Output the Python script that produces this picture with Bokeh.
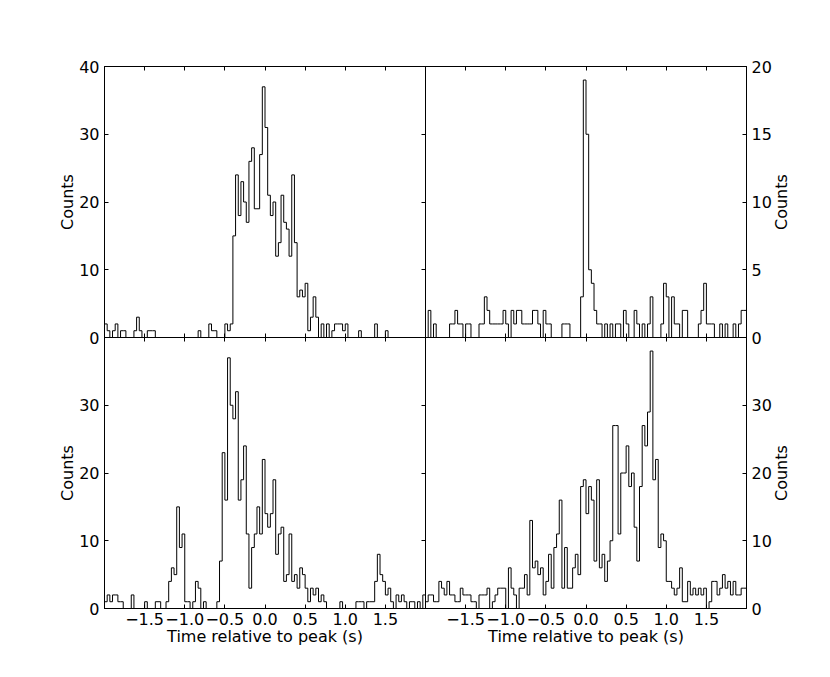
import math
import numpy as np
from bokeh.plotting import figure
from bokeh.models import Range1d, LinearAxis, FixedTicker, Span
from bokeh.embed import file_html
from bokeh.resources import INLINE

# ---------------- data ----------------
T_START, T_END = -2.0, 2.0          # time span of every light curve (s)
x_tick_values = [-1.5, -1.0, -0.5, 0.0, 0.5, 1.0, 1.5]
x_tick_labels = ["\u22121.5", "\u22121.0", "\u22120.5", "0.0", "0.5", "1.0", "1.5"]
yticks_top_left = [0, 10, 20, 30, 40]
yticks_top_right = [0, 5, 10, 15, 20]
yticks_bottom_left = [0, 10, 20, 30]
yticks_bottom_right = [0, 10, 20, 30]
inner_yticks_top_left = [10, 20, 30]
inner_yticks_bottom_left = [10, 20, 30]
x_label = "Time relative to peak (s)"
y_label = "Counts"

counts_top_left = [
    2, 1, 0, 1, 2, 0, 1, 1, 0, 0,
    0, 1, 3, 1, 0, 0, 1, 1, 1, 0,
    0, 0, 0, 0, 0, 0, 0, 0, 0, 0,
    0, 0, 0, 0, 0, 1, 0, 0, 0, 2,
    1, 1, 0, 0, 0, 2, 1, 2, 15, 24,
    18, 23, 20, 17, 26, 28, 19, 19, 27, 37,
    31, 21, 18, 20, 12, 14, 21, 17, 16, 12,
    24, 14, 6, 7, 6, 8, 1, 3, 6, 3,
    0, 2, 0, 2, 0, 1, 2, 2, 2, 1,
    2, 0, 0, 0, 0, 1, 0, 0, 0, 0,
    0, 2, 0, 0, 0, 1, 0, 0, 0, 0,
    0, 0, 0, 0, 0, 0, 0, 0, 0, 0,
]
counts_top_right = [
    0, 2, 0, 1, 0, 0, 0, 0, 0, 1,
    1, 2, 1, 1, 0, 1, 1, 0, 0, 0,
    1, 1, 3, 2, 1, 1, 1, 1, 1, 2,
    1, 0, 2, 1, 2, 2, 1, 1, 1, 1,
    2, 2, 1, 0, 2, 1, 1, 0, 0, 0,
    0, 1, 1, 1, 0, 0, 0, 0, 3, 19,
    15, 5, 4, 2, 1, 1, 0, 1, 0, 1,
    0, 1, 1, 0, 2, 1, 0, 0, 2, 1,
    0, 1, 0, 1, 3, 0, 0, 0, 1, 4,
    3, 0, 3, 1, 1, 0, 2, 2, 0, 0,
    0, 0, 1, 2, 4, 1, 1, 1, 0, 0,
    1, 0, 1, 0, 0, 1, 0, 1, 2, 2,
]
counts_bottom_left = [
    1, 2, 1, 2, 2, 1, 1, 0, 0, 0,
    2, 0, 0, 0, 0, 1, 0, 0, 0, 1,
    1, 0, 0, 1, 4, 6, 5, 15, 9, 11,
    1, 1, 0, 1, 4, 3, 0, 1, 0, 0,
    0, 0, 1, 7, 23, 16, 37, 30, 28, 32,
    16, 19, 24, 11, 3, 9, 11, 15, 11, 22,
    14, 12, 14, 19, 8, 11, 12, 4, 5, 11,
    4, 5, 3, 6, 5, 3, 1, 3, 2, 3,
    1, 2, 1, 0, 0, 0, 0, 0, 1, 0,
    0, 0, 0, 0, 1, 1, 1, 0, 1, 1,
    1, 4, 8, 5, 4, 2, 3, 1, 0, 2,
    1, 2, 1, 0, 1, 1, 0, 1, 0, 2,
]
counts_bottom_right = [
    1, 2, 2, 1, 1, 4, 3, 2, 4, 2,
    2, 1, 1, 3, 2, 2, 2, 1, 1, 0,
    2, 2, 2, 3, 0, 1, 2, 3, 3, 3,
    0, 6, 3, 2, 0, 3, 3, 5, 2, 13,
    6, 7, 5, 6, 2, 4, 8, 3, 9, 11,
    16, 3, 9, 3, 3, 6, 8, 5, 18, 19,
    14, 18, 16, 7, 19, 6, 8, 4, 7, 10,
    27, 27, 11, 20, 20, 24, 18, 20, 12, 7,
    18, 27, 24, 29, 38, 19, 22, 9, 11, 10,
    4, 4, 3, 2, 3, 6, 1, 1, 4, 2,
    3, 2, 3, 2, 3, 0, 1, 4, 4, 2,
    3, 5, 3, 4, 2, 4, 2, 2, 3, 3,
]

# ---------------- figure ----------------
FONT = "DejaVu Sans"
FS = "16px"
WIDTH, HEIGHT = 816, 655
BORDER_L, BORDER_R, BORDER_T, BORDER_B = 104, 70, 66, 47
Y_LABEL_LEN_PX = 56          # rendered length of the rotated "Counts" text

x_main = Range1d(-2, 6)      # left-column time axis (right column via "right")
y_main = Range1d(0, 80)      # bottom-left counts (others via extra ranges)
x_right = Range1d(-6, 2)
y_tl = Range1d(-40, 40)
y_tr = Range1d(-20, 20)
y_br = Range1d(0, 80)

p = figure(width=WIDTH, height=HEIGHT, x_range=x_main, y_range=y_main,
           x_axis_location=None, y_axis_location=None,
           toolbar_location=None, tools="", output_backend="svg",
           min_border_left=BORDER_L, min_border_right=BORDER_R,
           min_border_top=BORDER_T, min_border_bottom=BORDER_B)
p.extra_x_ranges = {"right": x_right}
p.extra_y_ranges = {"top_left": y_tl, "top_right": y_tr, "bottom_right": y_br}
p.xgrid.visible = False
p.ygrid.visible = False
p.background_fill_color = "white"
p.border_fill_color = "white"
p.outline_line_color = "black"
p.outline_line_width = 1
p.outline_line_alpha = 1.0


def to_main(v, src, dst):
    return dst.start + (v - src.start) * (dst.end - dst.start) / (src.end - src.start)


def hist(counts, xr, yr):
    n = len(counts)
    edges = np.linspace(T_START, T_END, n + 1)
    xs = np.concatenate([[edges[0]], edges])
    ys = np.concatenate([[0.0], np.asarray(counts, dtype=float), [0.0]])
    p.step(x=xs, y=ys, mode="after", line_color="black", line_width=1,
           x_range_name=xr, y_range_name=yr)


hist(counts_top_left, "default", "top_left")
hist(counts_top_right, "right", "top_right")
hist(counts_bottom_left, "default", "default")
hist(counts_bottom_right, "right", "bottom_right")


def axis(side, ticks, overrides=None, tick_in=4, tick_out=0, fixed=None,
         standoff=5, orientation="horizontal", line=True):
    show = overrides is not None
    ax = LinearAxis(ticker=FixedTicker(ticks=list(ticks), minor_ticks=[]),
                    major_tick_in=tick_in, major_tick_out=tick_out,
                    minor_tick_in=0, minor_tick_out=0,
                    major_tick_line_color="black" if (tick_in or tick_out) else None,
                    major_tick_line_width=1,
                    axis_line_color="black" if (fixed is None and line) else None,
                    major_label_standoff=standoff if show else 0,
                    major_label_orientation=orientation,
                    major_label_text_font=FONT,
                    major_label_text_font_size=FS if show else "0px",
                    major_label_text_color="black" if show else None)
    if show:
        ax.major_label_overrides = overrides
    if fixed is not None:
        ax.fixed_location = fixed
    p.add_layout(ax, side)
    return ax


# y ticks / labels (left column on the left edge, right column on the right edge)
left_pos, left_lab = [], {}
for v in yticks_bottom_left:
    pos = float(v)
    left_pos.append(pos)
    left_lab[pos] = str(v)
for v in yticks_top_left:
    pos = float(to_main(v, y_tl, y_main))
    left_pos.append(pos)
    left_lab[pos] = str(v)

right_pos, right_lab = [], {}
for v in yticks_bottom_right:
    pos = float(to_main(v, y_br, y_main))
    right_pos.append(pos)
    right_lab[pos] = str(v)
for v in yticks_top_right:
    pos = float(to_main(v, y_tr, y_main))
    right_pos.append(pos)
    right_lab[pos] = str(v)

# x ticks for both columns
x_pos, x_lab = [], {}
for v, t in zip(x_tick_values, x_tick_labels):
    x_pos.append(float(v))
    x_lab[float(v)] = t
    pr = float(to_main(v, x_right, x_main))
    x_pos.append(pr)
    x_lab[pr] = t

axis("left", left_pos, left_lab, standoff=5)
axis("right", right_pos, right_lab, standoff=5)
axis("below", x_pos, x_lab, standoff=4)
axis("above", x_pos)

# axis titles: one per panel, centred on each panel
y_span = y_main.end - y_main.start
x_span = x_main.end - x_main.start
frame_h = HEIGHT - BORDER_T - BORDER_B
y_centres = [y_main.start + 0.25 * y_span, y_main.start + 0.75 * y_span]
x_centres = [x_main.start + 0.25 * x_span, x_main.start + 0.75 * x_span]
# the right-hand titles start at their anchor and run upwards: move anchor down
half_len = 0.5 * Y_LABEL_LEN_PX * y_span / frame_h
y_centres_right = [c - half_len for c in y_centres]

axis("left", y_centres, {c: y_label for c in y_centres}, tick_in=0, tick_out=0,
     standoff=0, orientation="parallel", line=False)
axis("right", y_centres_right, {c: y_label for c in y_centres_right}, tick_in=0,
     tick_out=0, standoff=7, orientation=math.pi / 2, line=False)
axis("below", x_centres, {c: x_label for c in x_centres}, tick_in=0, tick_out=0,
     standoff=-1, orientation="horizontal", line=False)

# inner ticks on the shared edges
inner_y = [float(v) for v in inner_yticks_bottom_left] + \
          [float(to_main(v, y_tl, y_main)) for v in inner_yticks_top_left]
axis("right", inner_y, tick_in=4, tick_out=0, fixed=x_main.start + 0.5 * x_span)
axis("below", x_pos, tick_in=4, tick_out=4, fixed=y_main.start + 0.5 * y_span)

# divider lines between the four panels
p.add_layout(Span(location=x_main.start + 0.5 * x_span, dimension="height",
                  line_color="black", line_width=1))
p.add_layout(Span(location=y_main.start + 0.5 * y_span, dimension="width",
                  line_color="black", line_width=1))

with open("out.html", "w", encoding="utf-8") as f:
    f.write(file_html(p, INLINE, title="Light curves"))
